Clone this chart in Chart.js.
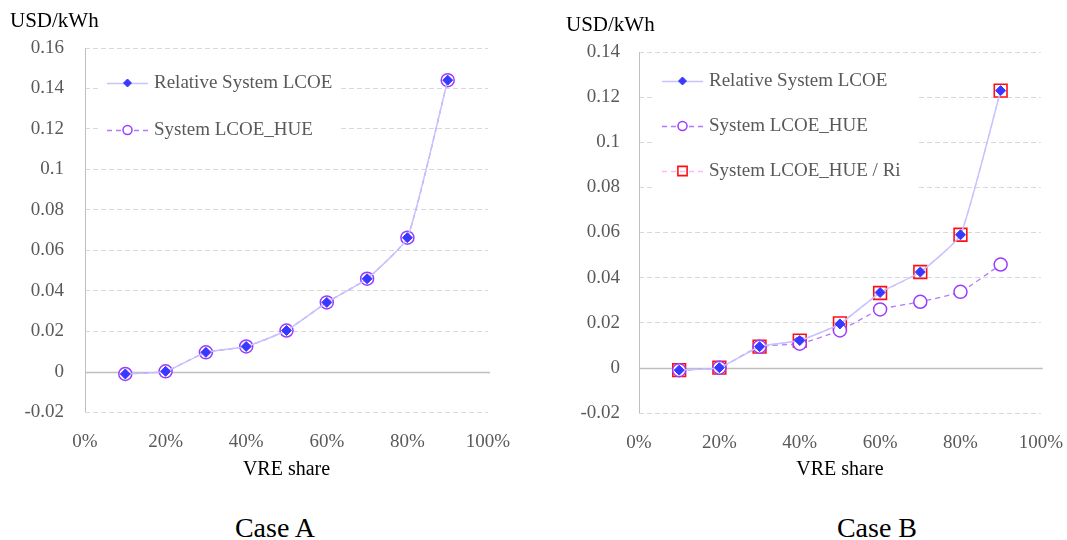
<!DOCTYPE html>
<html>
<head>
<meta charset="utf-8">
<script src="https://cdn.jsdelivr.net/npm/chart.js@4.4.1/dist/chart.umd.min.js"></script>
<style>
  html, body { margin: 0; padding: 0; background: #fff; }
  #page { position: relative; width: 1067px; height: 540px; overflow: hidden; font-family: "Liberation Serif", serif; }
  .panel { position: absolute; top: 0; }
  .unit { position: absolute; font-size: 21px; line-height: 1; color: #000; white-space: nowrap; }
  .case { position: absolute; font-size: 28px; line-height: 1; color: #000; white-space: nowrap; transform: translateX(-50%); }
</style>
</head>
<body>
<div id="page">
  <canvas id="caseA" class="panel" width="530" height="490" style="left:0px"></canvas>
  <canvas id="caseB" class="panel" width="542" height="490" style="left:540px"></canvas>
  <div class="unit" style="left:10px; top:10px">USD/kWh</div>
  <div class="unit" style="left:566px; top:14px">USD/kWh</div>
  <div class="case" style="left:275px; top:514px">Case A</div>
  <div class="case" style="left:877px; top:514px">Case B</div>
</div>
<script>
// VRE share (%) and system LCOE results (USD/kWh)
const vreShare = [10, 20, 30, 40, 50, 60, 70, 80, 90];

const caseA_relative = [-0.0012, 0.0001, 0.0095, 0.0124, 0.0203, 0.0342, 0.0459, 0.0662, 0.1441];
const caseA_hue      = [-0.0012, 0.0001, 0.0095, 0.0124, 0.0203, 0.0342, 0.0459, 0.0662, 0.1441];

const caseB_relative = [-0.0010, 0.0001, 0.0094, 0.0121, 0.0195, 0.0334, 0.0425, 0.0590, 0.1229];
const caseB_hue      = [-0.0010, 0.0001, 0.0094, 0.0107, 0.0166, 0.0259, 0.0293, 0.0337, 0.0458];
const caseB_hueRi    = [-0.0010, 0.0001, 0.0094, 0.0121, 0.0197, 0.0332, 0.0425, 0.0590, 0.1229];

const seriesNames = ['Relative System LCOE', 'System LCOE_HUE', 'System LCOE_HUE / Ri'];

const xRange = [0, 100, 20];          // min, max, step (%)
const yRangeA = [-0.02, 0.16, 0.02];  // min, max, step
const yRangeB = [-0.02, 0.14, 0.02];

Chart.defaults.font.family = '"Liberation Serif", "Times New Roman", serif';
Chart.defaults.animation = false;

const toPoints = (ys) => vreShare.map((x, i) => ({ x: x, y: ys[i] }));

function relativeSet(values) {
  return {
    label: seriesNames[0], data: toPoints(values),
    borderColor: '#c6c3ff', borderWidth: 1.5, tension: 0.15,
    pointStyle: 'rectRot', pointRadius: 5, pointBorderWidth: 1,
    pointBackgroundColor: '#3838ff', pointBorderColor: '#3838ff',
    legendMarker: { radius: 4 }
  };
}
function hueSet(values) {
  return {
    label: seriesNames[1], data: toPoints(values),
    borderColor: '#b27aff', borderWidth: 1.3, borderDash: [5, 4], tension: 0.15,
    pointStyle: 'circle', pointRadius: 6.5, pointBorderWidth: 1.5,
    pointBackgroundColor: '#ffffff', pointBorderColor: '#9a3cff',
    legendMarker: { radius: 4.5 }
  };
}
function riSet(values) {
  return {
    label: seriesNames[2], data: toPoints(values),
    borderColor: '#ffb8ff', borderWidth: 1.3, borderDash: [5, 4], tension: 0.15,
    pointStyle: 'rect', pointRadius: 9, pointBorderWidth: 1.6,
    pointBackgroundColor: 'rgba(255,255,255,0)', pointBorderColor: '#ff1010',
    legendMarker: { radius: 6.5 }
  };
}

// Axis line, solid zero line and an in-plot legend with a white backing box
const framePlugin = {
  id: 'frame',
  beforeDatasetsDraw(chart, args, opts) {
    const { ctx, chartArea: a, scales: { y } } = chart;
    ctx.save();
    ctx.setLineDash([]);
    ctx.strokeStyle = '#bfbfbf';
    ctx.lineWidth = 1;
    ctx.beginPath();
    ctx.moveTo(a.left + 0.5, a.top);
    ctx.lineTo(a.left + 0.5, a.bottom);
    ctx.stroke();
    const y0 = Math.round(y.getPixelForValue(0)) + 0.5;
    ctx.lineWidth = 1.4;
    ctx.beginPath();
    ctx.moveTo(a.left, y0);
    ctx.lineTo(a.right + 2, y0);
    ctx.stroke();

    // legend
    const sets = chart.data.datasets;
    ctx.font = '19px "Liberation Serif", serif';
    let maxW = 0;
    sets.forEach(d => { maxW = Math.max(maxW, ctx.measureText(d.label).width); });
    const x0 = a.left + opts.lineStart, x1 = a.left + opts.lineEnd;
    const xm = (x0 + x1) / 2, xt = a.left + opts.textStart;
    const rows = sets.map((d, i) => opts.firstRow + i * opts.rowGap);
    ctx.fillStyle = '#ffffff';
    ctx.fillRect(a.left + 13, rows[0] - 22, xt + maxW + opts.boxExtra - (a.left + 13), rows[rows.length - 1] - rows[0] + 44);
    sets.forEach((d, i) => {
      const ry = rows[i];
      ctx.save();
      ctx.strokeStyle = d.borderColor;
      ctx.lineWidth = d.borderWidth;
      ctx.setLineDash(d.borderDash || []);
      ctx.beginPath();
      ctx.moveTo(x0, ry + 0.5);
      ctx.lineTo(x1, ry + 0.5);
      ctx.stroke();
      ctx.setLineDash([]);
      ctx.fillStyle = d.pointBackgroundColor;
      ctx.strokeStyle = d.pointBorderColor;
      ctx.lineWidth = d.pointBorderWidth;
      Chart.helpers.drawPoint(ctx, {
        pointStyle: d.pointStyle, radius: d.legendMarker.radius,
        rotation: 0, borderWidth: d.pointBorderWidth
      }, xm, ry);
      ctx.restore();
      ctx.fillStyle = '#595959';
      ctx.textAlign = 'left';
      ctx.textBaseline = 'middle';
      ctx.fillText(d.label, xt, ry);
    });
    ctx.restore();
  }
};

function makeChart(id, datasets, yRange, dims) {
  const isZero = v => Math.abs(v) < 1e-9;
  return new Chart(document.getElementById(id), {
    type: 'line',
    data: { datasets: datasets },
    plugins: [framePlugin],
    options: {
      responsive: false,
      devicePixelRatio: 1,
      layout: { padding: { left: 0, top: dims.top, right: dims.right, bottom: 0 } },
      plugins: {
        legend: { display: false },
        tooltip: { enabled: false },
        frame: dims.legend
      },
      scales: {
        x: {
          type: 'linear', min: xRange[0], max: xRange[1],
          grid: { display: false, drawTicks: false },
          border: { display: false },
          ticks: {
            stepSize: xRange[2], padding: 19, color: '#595959',
            font: { size: 19 },
            maxRotation: 0,
            callback: v => Math.round(v) + '%'
          },
          title: {
            display: true, text: 'VRE share', color: '#000',
            font: { size: 20 }, padding: { top: 0, bottom: 8 }
          },
          afterFit: s => { s.height = dims.xHeight; }
        },
        y: {
          min: yRange[0], max: yRange[1],
          grid: {
            drawTicks: false, lineWidth: 1,
            color: c => isZero(c.tick.value) ? 'rgba(0,0,0,0)' : '#d9d9d9'
          },
          border: { display: false, dash: [5, 3] },
          ticks: {
            stepSize: yRange[2], padding: dims.yPad, color: '#595959',
            font: { size: 19 },
            callback: v => String(parseFloat(v.toFixed(2)))
          },
          afterFit: s => { s.width = dims.yWidth; }
        }
      }
    }
  });
}

makeChart('caseA',
  [relativeSet(caseA_relative), hueSet(caseA_hue)],
  yRangeA,
  { top: 48, right: 42, xHeight: 78, yWidth: 85, yPad: 21,
    legend: { lineStart: 22, lineEnd: 63, textStart: 69, firstRow: 83, rowGap: 47, boxExtra: 8 } });

makeChart('caseB',
  [relativeSet(caseB_relative), hueSet(caseB_hue), riSet(caseB_hueRi)],
  yRangeB,
  { top: 52, right: 41, xHeight: 77, yWidth: 99, yPad: 19,
    legend: { lineStart: 23, lineEnd: 64, textStart: 70, firstRow: 81, rowGap: 45, boxExtra: 16 } });
</script>
</body>
</html>
